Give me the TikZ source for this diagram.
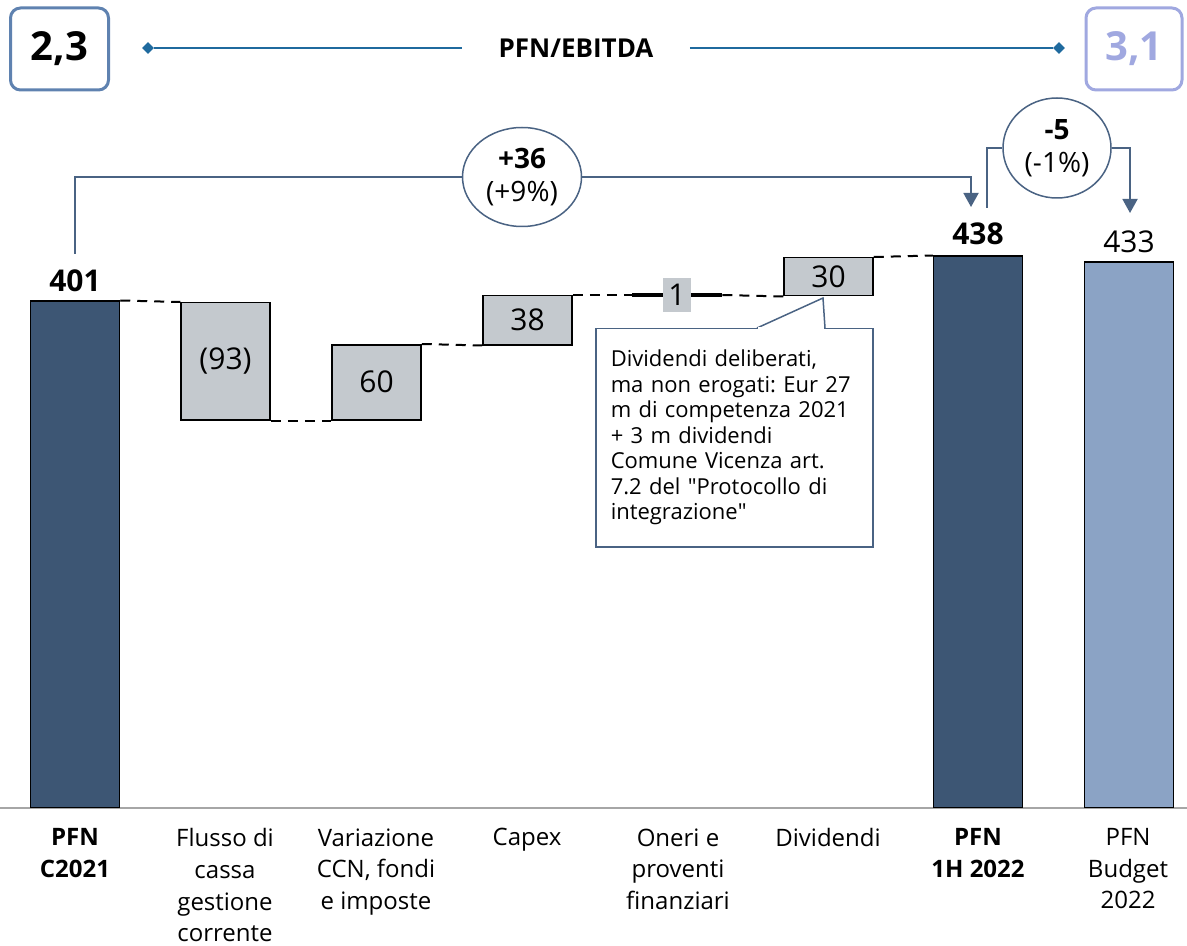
\documentclass[tikz,border=0pt]{standalone}
\usepackage{fontspec}
\setmainfont{Open Sans}
\usetikzlibrary{shapes.geometric,arrows.meta}
\definecolor{bardark}{HTML}{3D5674}
\definecolor{barlight}{HTML}{8BA3C5}
\definecolor{boxgray}{HTML}{C4C9CE}
\definecolor{linkblue}{HTML}{4A6383}
\definecolor{topblue}{HTML}{1F6A9E}
\definecolor{ratioold}{HTML}{5F82B0}
\definecolor{rationew}{HTML}{A0A8E0}
\definecolor{axisgray}{HTML}{A6A6A6}
\frenchspacing

\begin{document}
\begin{tikzpicture}[x=0.5pt, y=-0.5pt,
    bar/.style = {draw, line width=0.75pt, minimum width=44.5pt, inner sep=0, anchor=south},
    delta/.style = {draw, line width=0.75pt, fill=boxgray, minimum width=44.5pt, inner sep=0, anchor=north, font=\fontsize{15}{18}\selectfont},
    val/.style = {inner sep=0, font=\fontsize{15}{18}\selectfont},
    cat/.style = {anchor=north, inner sep=0, align=center, font=\fontsize{12}{15.85}\selectfont},
    catb/.style = {cat, font=\bfseries\fontsize{12}{15.85}\selectfont},
    link/.style = {dash pattern=on 5pt off 3.5pt, line width=1pt},
    bridge/.style = {draw=linkblue, line width=0.9pt},
    pct/.style = {ellipse, draw=linkblue, line width=0.75pt, fill=white, inner sep=0, align=center, font=\fontsize{14}{16.5}\selectfont},
    ratio/.style = {draw, rounded corners=5pt, line width=1.5pt, minimum width=49pt, minimum height=41pt, font=\bfseries\fontsize{20}{24}\selectfont},
    tick/.style = {diamond, fill=topblue, inner sep=0, minimum size=6pt}]
    \useasboundingbox (0,0) rectangle (1187,946);

    \node[ratio, draw=ratioold] (r22) at (59.5,49) {2,3};
    \node[ratio, draw=rationew, text=rationew, minimum width=48pt] (r31) at (1134,49) {3,1};
    \node[tick] (tl) at (148,48) {};
    \node[tick] (tr) at (1059,48) {};
    \node[inner xsep=18pt, font=\bfseries\fontsize{13}{15}\selectfont] (pe) at (576,48) {PFN/EBITDA};
    \draw[topblue, line width=1.3pt] (tl) -- (pe);
    \draw[topblue, line width=1.3pt] (pe) -- (tr);

    \draw[axisgray, line width=1pt] (0,808) -- (1187,808);

    \node[bar, fill=bardark, minimum height=253pt] (c21) at (75,808) {};
    \node[delta, minimum height=58.5pt] (flu) at (225.5,302) {(93)};
    \node[delta, minimum height=37.5pt] (var) at (376.5,344) {60};
    \node[delta, minimum height=24.5pt] (cap) at (527.5,295) {38};
    \node[fill=black, minimum width=45pt, minimum height=2pt, inner sep=0] (one) at (677,295) {};
    \node[fill=boxgray, minimum width=14pt, minimum height=17pt, inner sep=0, font=\fontsize{15}{18}\selectfont] (onev) at (677,295) {1};
    \node[delta, minimum height=19pt] (div) at (828.5,257) {30};
    \node[bar, fill=bardark, minimum height=275.5pt] (h22) at (978,808) {};
    \node[bar, fill=barlight, minimum height=272.5pt] (bud) at (1129,808) {};

    \draw[link] (c21.north east) -- (flu.north west);
    \draw[link] (flu.south east) -- (var.south west);
    \draw[link] (var.north east) -- (cap.south west);
    \draw[link] (cap.north east) -- (one.west);
    \draw[link] (one.east) -- (div.south west);
    \draw[link] (div.north east) -- (h22.north west);

    \node[val] (v401) at (75,281) {\bfseries 401};
    \node[val] (v438) at (978,234) {\bfseries 438};
    \node[val] (v433) at (1129,242) {433};

    \node[pct, minimum width=59.5pt, minimum height=49.5pt] (d36) at (522,177) {\textbf{+36}\\(+9\%)};
    \node[pct, minimum width=54pt, minimum height=50pt] (d5) at (1057,148) {\textbf{-5}\\(-1\%)};
    \coordinate (s36) at (75,254);
    \coordinate (e36) at (971,207);
    \coordinate (s5) at (987,208);
    \coordinate (e5) at (1130,213);
    \draw[bridge] (s36) |- (d36);
    \draw[bridge, -{Triangle[width=7.5pt,length=7pt]}] (d36) -| (e36);
    \draw[bridge] (s5) |- (d5);
    \draw[bridge, -{Triangle[width=7.5pt,length=7pt]}] (d5) -| (e5);

    \node[draw=linkblue, line width=0.75pt, fill=white, anchor=north west, inner xsep=7.5pt, inner ysep=0, text width=123.5pt, minimum height=109pt, align=left, font=\fontsize{11}{12.75}\selectfont] (note) at (595,328) {Dividendi deliberati,\\ma non erogati: Eur 27\\m di competenza 2021\\+ 3 m dividendi\\Comune Vicenza art.\\7.2 del \textquotedbl Protocollo di\\integrazione\textquotedbl};
    \coordinate (tip) at (823,298);
    \filldraw[draw=linkblue, fill=white, line width=0.75pt] (757,328) -- (tip) -- (825,328);
    \draw[white, line width=1pt] (758,328) -- (824,328);

    \node[catb] (l1) at (75,828) {PFN\\C2021};
    \node[cat] (l2) at (225,828) {Flusso di\\cassa\\gestione\\corrente};
    \node[cat] (l3) at (376,828) {Variazione\\CCN, fondi\\e imposte};
    \node[cat] (l4) at (527,828) {Capex};
    \node[cat] (l5) at (678,828) {Oneri e\\proventi\\finanziari};
    \node[cat] (l6) at (828,828) {Dividendi};
    \node[catb] (l7) at (978,828) {PFN\\1H 2022};
    \node[cat] (l8) at (1128,828) {PFN\\Budget\\2022};
\end{tikzpicture}
\end{document}
